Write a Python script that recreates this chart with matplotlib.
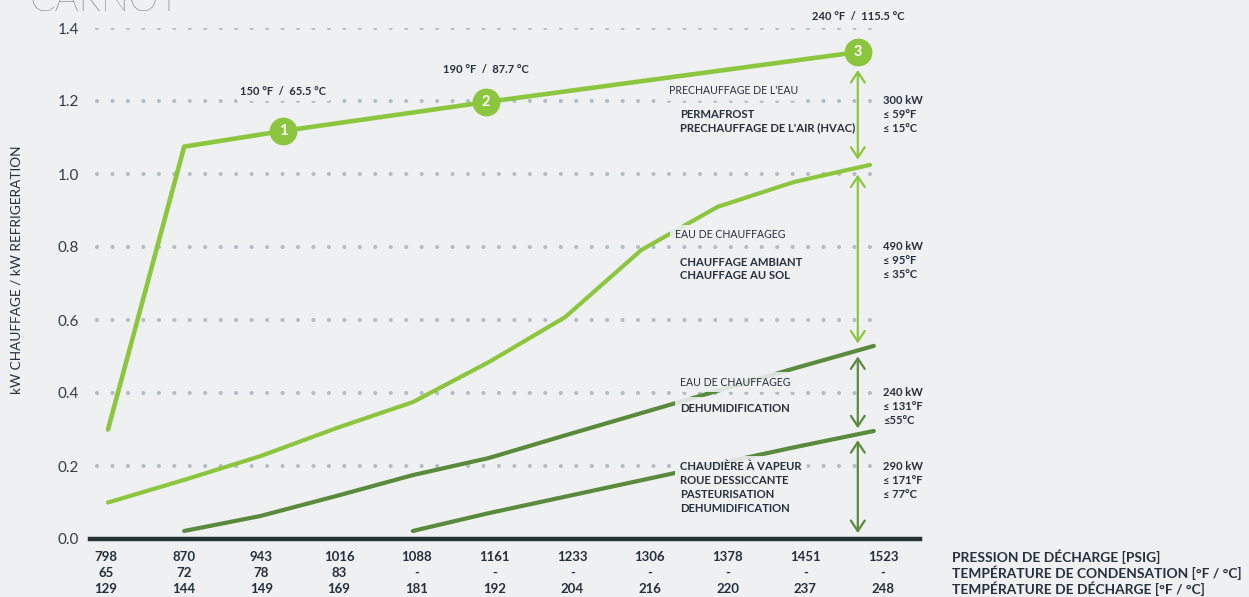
"""
Carnot chart: heating kW per refrigeration kW against discharge pressure
"""
import matplotlib
matplotlib.use("Agg")
import matplotlib.pyplot as plt
import numpy as np
from matplotlib.transforms import Affine2D

# ---- data -------------------------------------------------------------
pressure_psig = [798, 870, 943, 1016, 1088, 1161, 1233, 1306, 1378, 1451, 1523]
condensing_temp = ["65", "72", "78", "83", "-", "-", "-", "-", "-", "-", "-"]
discharge_temp = [129, 144, 149, 169, 181, 192, 204, 216, 220, 237, 248]
row_titles = ["PRESSION DE DÉCHARGE [PSIG]",
              "TEMPÉRATURE DE CONDENSATION [°F / °C]",
              "TEMPÉRATURE DE DÉCHARGE [°F / °C]"]

# curves, x = column index of the pressure table
carnot_x = [0, 1, 2.3, 4.96, 9.84]
carnot_y = [0.30, 1.075, 1.118, 1.197, 1.334]

water_x = [0, 1, 2, 3, 4, 5, 6, 7, 8, 9, 10]
water_y = [0.10, 0.162, 0.227, 0.304, 0.375, 0.485, 0.608, 0.792, 0.91, 0.978, 1.025]

dehum_x = [1, 2, 3, 4, 5, 6, 7, 8, 9, 10.05]
dehum_y = [0.022, 0.063, 0.118, 0.175, 0.222, 0.284, 0.345, 0.406, 0.467, 0.529]

steam_x = [4, 5, 6, 7, 8, 9, 10.05]
steam_y = [0.022, 0.071, 0.116, 0.161, 0.206, 0.251, 0.296]

points_x = [2.3, 4.96, 9.84]
points_y = [1.118, 1.197, 1.334]
point_names = ["1", "2", "3"]
point_temps = ["150 °F  /  65.5 °C", "190 °F  /  87.7 °C", "240 °F  /  115.5 °C"]

yticks = [0.0, 0.2, 0.4, 0.6, 0.8, 1.0, 1.2, 1.4]

band_headers = ["PRECHAUFFAGE DE L'EAU", "EAU DE CHAUFFAGEG", "EAU DE CHAUFFAGEG", None]
band_uses = [["PERMAFROST", "PRECHAUFFAGE DE L'AIR (HVAC)"],
             ["CHAUFFAGE AMBIANT", "CHAUFFAGE AU SOL"],
             ["DEHUMIDIFICATION"],
             ["CHAUDIÈRE À VAPEUR", "ROUE DESSICCANTE", "PASTEURISATION", "DEHUMIDIFICATION"]]
band_values = [["300 kW", "≤ 59°F", "≤ 15°C"],
               ["490 kW", "≤ 95°F", "≤ 35°C"],
               ["240 kW", "≤ 131°F", "≤55°C"],
               ["290 kW", "≤ 171°F", "≤ 77°C"]]

# ---- style ------------------------------------------------------------
BG = "#eef0f2"
LIGHT = "#8cc63f"
DARK = "#5a8a3b"
GRID = "#b3bdc3"
INK = "#262f3c"
W, H = 1249, 597

plt.rcParams["font.family"] = ["Lato", "DejaVu Sans"]

fig = plt.figure(figsize=(W / 100, H / 100), dpi=100, facecolor=BG)
# axes spans pixel x 90..920, y=0 at pixel 539, y=1.4 at pixel 28
ax = fig.add_axes([90 / W, (H - 539) / H, 830 / W, 511 / H], facecolor=BG)
ax.set_xlim((90 - 108) / 76.2, (920 - 108) / 76.2)
ax.set_ylim(0, 1.4)

# pixel transform (origin top-left) for layout text
pix = Affine2D().scale(1, -1).translate(0, H)

# dotted grid
for y in yticks[1:]:
    ax.plot([-0.144, 10.0], [y, y], color=GRID, lw=3.0,
            linestyle=(0, (0.01, 3.7)), dash_capstyle="round", zorder=1)

for s in ["top", "right", "left"]:
    ax.spines[s].set_visible(False)
ax.spines["bottom"].set_color("#263238")
ax.spines["bottom"].set_linewidth(3.2)
ax.set_xticks([])
ax.set_yticks(yticks)
ax.set_yticklabels([f"{v:.1f}" for v in yticks], fontsize=11, color="#333c46")
ax.tick_params(axis="y", length=0, pad=8)

# curves
ax.plot(carnot_x, carnot_y, color=LIGHT, lw=3.3, solid_capstyle="round", zorder=2)
ax.plot(water_x, water_y, color=LIGHT, lw=3.0, solid_capstyle="round", zorder=2)
ax.plot(dehum_x, dehum_y, color=DARK, lw=3.0, solid_capstyle="round", zorder=2)
ax.plot(steam_x, steam_y, color=DARK, lw=3.0, solid_capstyle="round", zorder=2)

# numbered points
ax.plot(points_x, points_y, "o", ms=19, color=LIGHT, mec=LIGHT, zorder=6)
for x, y, name, temp, off in zip(points_x, points_y, point_names, point_temps, [39, 33, 36]):
    ax.text(x, y, name, color="white", fontsize=10.5, fontweight="bold",
            ha="center", va="center", zorder=7)
    ax.annotate(temp, (x, y), xytext=(0, off * 0.72), textcoords="offset points",
                ha="center", va="center", fontsize=8, fontweight="bold", color=INK,
                annotation_clip=False, zorder=3,
                bbox=dict(boxstyle="square,pad=0.3", fc=BG, ec="none"))

# double arrows between curve ends
ax_x = points_x[-1]
levels = [points_y[-1], np.interp(ax_x, water_x, water_y),
          np.interp(ax_x, dehum_x, dehum_y), np.interp(ax_x, steam_x, steam_y), 0.0]
shrinks = [(18, 8), (7, 7), (6, 6), (6, 6)]
arrow_colors = [LIGHT, LIGHT, DARK, DARK]
for i in range(4):
    ax.annotate("", xy=(ax_x, levels[i + 1]), xytext=(ax_x, levels[i]),
                arrowprops=dict(arrowstyle="<->,head_length=0.75,head_width=0.5",
                                color=arrow_colors[i], lw=1.6,
                                shrinkA=shrinks[i][0] * 0.72, shrinkB=shrinks[i][1] * 0.72),
                zorder=5)


def label(x, y, s, weight="normal", size=7.8, boxed=True):
    # background box drawn under every text so no box hides a neighbour
    if boxed:
        ax.text(x, y, s, transform=pix, fontsize=size, fontweight=weight, color="none",
                ha="left", va="center", zorder=3,
                bbox=dict(boxstyle="square,pad=0.45", fc=BG, ec="none", alpha=0.88))
    ax.text(x, y, s, transform=pix, fontsize=size, fontweight=weight, color=INK,
            ha="left", va="center", zorder=4)


# band descriptions (pixel layout)
header_pos = [(669, 91), (675, 235), (680, 382), None]
uses_pos = [(680, 114), (680, 262), (680, 408), (680, 467)]
values_pos = [(883, 101), (883, 247), (883, 393), (883, 467)]
for head, hp, uses, up, vals, vp in zip(band_headers, header_pos, band_uses, uses_pos,
                                        band_values, values_pos):
    if head:
        label(hp[0], hp[1], head, size=7.6)
    for k, line in enumerate(uses):
        label(up[0], up[1] + 13.8 * k, line, weight="bold", size=8.1)
    for k, line in enumerate(vals):
        label(vp[0], vp[1] + 14 * k, line, weight="bold", size=8.0, boxed=False)

# bottom table
label_px = [106 + 77.7 * i for i in range(len(pressure_psig))]
rows = [pressure_psig, condensing_temp, discharge_temp]
for r, (vals, ypx) in enumerate(zip(rows, [557, 573, 589])):
    for xp, v in zip(label_px, vals):
        ax.text(xp, ypx, str(v), transform=pix, fontsize=9.5, fontweight="bold",
                color=INK, ha="center", va="center")
    ax.text(952, ypx, row_titles[r], transform=pix, fontsize=9.9, fontweight="bold",
            color=INK, ha="left", va="center")

# axis title and chart title (title is cropped at the top, as in the source)
fig.text(17 / W, 1 - 270 / H, "kW CHAUFFAGE / kW REFRIGERATION", rotation=90,
         fontsize=9.8, color=INK, ha="center", va="center")
fig.text(30 / W, 1 - 11 / H, "CARNOT", fontsize=27, fontweight="light",
         color="#3d4852", ha="left", va="baseline")

fig.savefig("out.png", dpi=100, facecolor=BG)
